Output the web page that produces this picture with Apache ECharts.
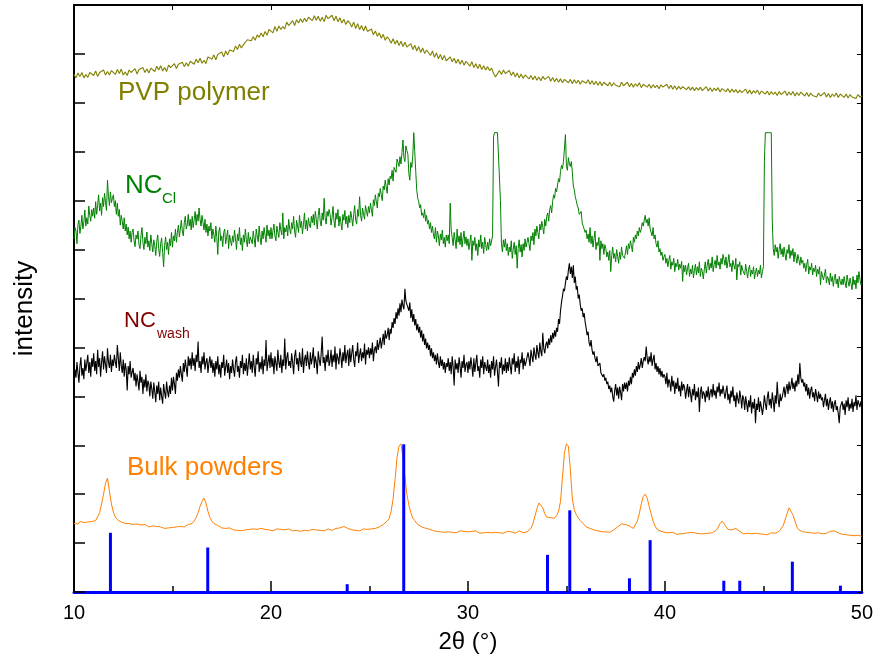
<!DOCTYPE html>
<html>
<head>
<meta charset="UTF-8">
<title>XRD</title>
<script src="https://cdn.jsdelivr.net/npm/echarts@6/dist/echarts.min.js"></script>
<style>
    html, body { margin: 0; padding: 0; background: #fff; }
    #box { width: 876px; height: 660px; }
</style>
</head>
<body>
<div id="box"></div>
<script>
// all patterns start at 2theta = 10; PVP and bulk every 0.1, NC scans every 0.05
const start = 10
const coarseStep = 0.1, fineStep = 0.05

// intensities (1 tick = 100)
const pvp = [
1058,1051,1061,1054,1062,1051,1058,1052,1062,1058,
1056,1065,1054,1062,1059,1067,1057,1064,1057,1066,
1065,1058,1068,1060,1069,1057,1063,1056,1067,1062,
1061,1070,1059,1068,1064,1072,1062,1069,1061,1071,
1071,1064,1075,1067,1076,1065,1072,1064,1077,1072,
1071,1080,1070,1079,1076,1083,1074,1082,1075,1085,
1085,1079,1089,1082,1091,1081,1087,1080,1094,1090,
1089,1098,1088,1099,1096,1104,1094,1106,1098,1108,
1110,1105,1116,1109,1120,1112,1119,1115,1129,1126,
1127,1135,1128,1139,1134,1143,1135,1146,1138,1150,
1150,1143,1156,1146,1157,1150,1156,1151,1165,1158,
1159,1168,1158,1170,1163,1172,1164,1173,1166,1175,
1175,1168,1178,1169,1177,1167,1175,1166,1179,1172,
1170,1179,1168,1177,1166,1174,1163,1171,1160,1168,
1163,1155,1165,1152,1162,1150,1158,1147,1157,1146,
1144,1151,1139,1147,1136,1143,1132,1140,1128,1135,
1130,1122,1131,1120,1128,1117,1126,1115,1124,1114,
1114,1121,1109,1118,1106,1115,1103,1112,1101,1108,
1105,1097,1106,1093,1102,1090,1099,1088,1097,1086,
1087,1094,1084,1091,1081,1089,1079,1087,1077,1085,
1083,1075,1084,1072,1080,1070,1079,1068,1076,1067,
1074,1066,1071,1060,1053,1057,1066,1058,1067,1060,
1059,1066,1056,1063,1053,1061,1051,1059,1050,1057,
1057,1049,1056,1047,1055,1046,1053,1045,1054,1048,
1047,1054,1044,1052,1043,1050,1042,1049,1041,1048,
1049,1041,1048,1039,1047,1040,1046,1038,1045,1041,
1040,1047,1038,1045,1037,1044,1036,1043,1035,1042,
1043,1035,1042,1034,1041,1036,1040,1033,1042,1035,
1035,1042,1033,1040,1032,1039,1034,1041,1031,1038,
1039,1032,1038,1030,1037,1031,1036,1029,1037,1032,
1031,1038,1029,1036,1028,1035,1027,1034,1028,1033,
1034,1027,1033,1026,1032,1025,1031,1026,1032,1025,
1026,1033,1024,1031,1023,1030,1025,1031,1022,1029,
1030,1023,1029,1021,1028,1022,1027,1020,1026,1021,
1021,1028,1019,1026,1018,1025,1020,1026,1017,1024,
1025,1018,1024,1016,1023,1017,1022,1015,1023,1017,
1017,1024,1015,1022,1016,1023,1014,1021,1015,1022,
1022,1014,1021,1013,1020,1015,1019,1012,1020,1014,
1014,1021,1012,1019,1011,1018,1013,1020,1011,1018,
1019,1011,1018,1010,1017,1012,1016,1009,1017,1012,
1014]

const ncCl = [
722,745,738,712,751,760,733,748,770,742,756,781,748,765,752,789,770,758,782,768,
785,764,798,772,790,812,779,795,770,806,788,815,797,780,842,808,790,818,796,805,
812,788,800,772,795,768,782,750,770,758,742,765,738,752,730,746,722,738,715,735,
742,718,706,730,722,738,710,702,728,745,715,700,725,712,736,705,718,698,730,712,
695,720,708,688,716,730,702,686,712,724,694,665,708,726,700,715,690,722,708,735,
705,728,718,742,715,735,750,726,742,760,738,728,755,768,742,750,772,748,762,740,
768,745,760,778,750,772,758,785,762,748,770,755,740,762,735,752,728,748,738,755,
722,742,730,715,748,725,690,736,745,718,728,706,735,742,712,725,740,702,730,718,
708,728,715,740,722,700,732,718,745,710,724,698,730,715,742,720,706,735,712,726,
730,712,738,722,705,742,728,716,748,725,710,738,722,745,730,715,750,728,740,722,
745,722,738,752,728,718,748,735,725,755,740,730,775,722,745,736,750,728,762,742,
732,755,742,768,738,725,760,748,735,770,745,758,732,752,775,742,760,738,765,750,
745,768,755,772,750,778,762,742,770,785,758,748,775,760,805,765,752,778,768,782,
772,750,765,788,758,745,775,762,782,748,768,755,740,772,760,780,752,768,745,770,
755,778,765,748,772,790,760,752,782,768,808,770,758,785,772,762,790,778,768,788,
775,795,782,768,802,790,812,798,785,815,808,825,812,800,830,822,842,828,815,845,
832,850,845,862,840,868,872,858,885,878,870,890,875,898,924,888,880,912,902,895,
855,842,878,868,892,939,900,860,822,805,798,785,792,770,775,765,782,758,770,752,
760,742,755,735,748,730,722,745,715,738,728,708,732,720,740,712,725,705,730,718,
730,712,795,740,725,708,735,720,702,742,715,728,710,735,705,722,738,712,726,708,
722,700,715,730,678,718,708,725,698,712,688,720,705,730,702,715,692,725,710,698,
715,700,722,708,712,728,930,939,939,939,939,939,939,800,712,695,720,705,722,698,
712,688,705,695,718,682,700,715,690,708,662,702,720,695,710,685,712,698,722,705,
708,725,712,698,728,718,735,710,742,728,748,735,722,752,740,758,745,732,762,748,
768,775,758,782,790,775,798,812,805,825,818,832,845,838,860,872,865,880,878,935,
870,862,888,875,870,880,858,830,822,808,800,790,785,772,768,778,755,748,742,735,
740,722,732,715,745,712,728,705,722,738,700,715,708,725,678,718,702,712,690,710,
702,685,695,678,698,655,688,705,682,692,675,700,686,672,695,680,705,688,692,682,
695,708,690,712,702,718,708,695,725,715,730,722,738,728,745,735,742,755,748,760,
770,755,762,748,765,742,738,728,745,722,730,712,705,718,695,702,688,695,678,685,
690,672,682,665,678,688,660,675,668,682,655,672,665,680,658,670,662,676,635,668,
655,668,648,662,672,645,660,650,668,642,658,670,648,665,652,675,645,662,655,640,
660,675,652,668,680,658,672,662,685,655,670,678,662,688,668,675,660,682,670,690,
680,668,685,662,675,690,665,672,655,678,668,660,682,638,670,665,675,648,668,658,
662,648,670,655,642,660,668,645,658,650,665,640,655,662,645,658,650,668,642,655,
665,880,939,939,939,939,939,939,939,760,702,688,710,695,705,682,700,712,690,702,
685,705,690,678,700,692,710,682,698,688,702,675,695,685,672,690,680,668,685,672,
678,662,672,655,670,680,650,665,658,672,648,662,655,668,645,660,650,665,628,655,
652,638,648,660,632,645,640,628,652,635,645,625,642,650,630,640,622,645,635,628,
640,628,645,632,622,648,635,625,642,630,618,645,628,638,620,648,632,655,640,628,
632]

const ncWash = [
420,455,438,470,448,428,462,480,442,458,435,475,452,468,485,448,470,440,478,460,
488,452,472,445,495,460,478,440,470,492,455,482,465,448,498,470,458,485,450,475,
462,485,470,458,505,478,452,490,462,448,475,440,468,455,412,462,445,472,438,450,
458,432,448,420,445,430,412,452,428,440,405,435,418,445,410,432,425,400,430,415,
395,428,410,388,422,405,430,392,418,400,385,425,408,395,430,410,398,422,405,438,
412,440,425,405,448,432,455,438,462,445,430,468,450,475,458,440,482,462,478,455,
490,462,478,452,485,470,512,458,472,448,482,465,490,455,470,478,448,468,482,458,
475,448,468,440,472,455,482,445,465,438,470,458,485,442,460,475,448,468,435,462,
448,475,455,440,470,482,450,462,438,472,458,485,445,468,452,478,442,465,488,455,
472,448,485,460,440,478,465,492,450,470,455,482,445,475,462,515,452,470,485,458,
490,460,478,445,482,468,452,495,470,458,485,448,475,462,518,455,478,490,462,472,
458,488,470,445,482,495,465,478,452,490,470,460,498,448,475,485,462,492,470,455,
490,465,478,500,458,482,470,445,492,475,462,488,522,468,480,452,485,470,495,462,
472,495,460,485,470,502,455,488,478,465,498,482,458,490,472,505,468,485,495,462,
498,470,488,505,475,460,492,482,510,468,485,498,472,490,478,508,465,495,485,500,
478,498,485,510,472,495,502,488,515,495,508,520,498,512,528,505,535,518,525,540,
515,538,528,552,540,560,548,572,558,580,565,590,572,598,585,578,620,595,588,582,
575,592,560,578,552,568,545,558,535,548,530,542,520,535,512,528,505,518,498,510,
495,505,482,498,478,490,472,485,465,488,470,458,482,462,475,455,470,448,468,460,
478,452,470,445,482,460,422,475,455,468,448,480,462,438,472,458,485,450,465,470,
448,472,455,480,462,440,478,450,468,485,452,462,438,475,458,482,445,470,460,452,
475,448,465,438,472,455,482,442,460,475,450,420,470,458,480,445,465,452,478,448,
470,452,480,462,445,478,465,488,450,472,458,482,445,475,468,490,455,478,462,470,
468,490,478,462,495,482,470,500,485,475,505,490,478,510,492,482,530,498,488,505,
512,498,518,505,525,510,530,518,535,522,540,532,558,548,575,592,605,620,615,632,
645,638,658,672,650,665,642,668,632,645,618,625,600,608,588,575,580,562,570,552,
540,525,532,510,502,515,495,485,492,478,470,482,462,458,468,448,452,440,445,432,
438,425,430,415,422,408,418,400,389,412,425,402,418,395,420,408,392,425,410,428,
415,428,410,432,422,440,425,448,438,455,442,462,450,470,455,465,478,458,472,480,
472,502,478,465,482,470,490,462,475,485,455,468,450,462,445,458,440,452,438,445,
440,425,448,418,435,428,410,442,420,432,405,428,415,438,410,422,400,430,412,425,
418,395,412,425,398,420,405,388,415,402,425,392,410,398,418,368,408,420,395,410,
405,388,412,398,420,392,408,415,398,425,402,412,395,420,408,428,400,415,405,422,
418,395,410,422,392,405,385,412,398,420,390,402,378,408,395,385,412,398,375,402,
395,372,400,385,368,392,378,402,365,388,375,395,345,385,372,398,368,390,378,362,
378,402,385,372,398,410,382,395,375,408,390,368,402,385,430,395,378,405,390,398,
408,420,398,415,425,405,430,412,422,438,415,428,410,432,420,445,425,468,438,428,
435,420,428,410,425,402,418,395,412,420,398,408,390,415,402,388,410,395,405,392,
398,378,392,405,380,395,372,388,398,375,390,368,385,392,372,380,365,345,378,382,
390,372,385,362,392,378,398,370,385,375,395,368,388,380,402,372,392,385,378,390,
380]

const bulk = [
140,143,139,144,141,142,138,143,140,144,
143,146,150,162,180,200,222,233,205,180,
163,153,148,146,143,141,140,139,140,137,
138,136,139,135,137,134,138,136,133,137,
135,132,134,131,133,135,130,133,131,134,
132,135,133,131,134,136,133,135,138,137,
140,145,152,162,175,185,192,182,165,152,
145,140,138,136,133,131,132,130,128,131,
129,127,130,126,128,125,129,127,126,128,
126,129,125,128,127,130,126,128,125,127,
128,125,127,129,126,128,124,127,126,129,
127,125,128,126,129,124,127,126,128,125,
126,128,125,127,130,126,128,125,127,129,
127,126,128,130,129,131,133,134,132,130,
128,127,129,126,128,125,127,129,126,128,
127,129,128,130,131,133,135,138,141,145,
150,165,190,230,275,298,303,275,235,200,
178,162,151,146,140,137,134,132,131,130,
129,127,126,125,124,126,123,125,122,124,
123,125,122,124,121,123,125,122,124,121,
123,121,124,122,125,122,120,123,121,124,
122,124,121,123,122,125,121,123,120,122,
124,121,123,122,120,123,125,122,121,124,
123,126,130,140,155,170,182,186,172,160,
153,150,152,149,151,156,165,185,235,285,
303,298,250,190,168,158,152,146,142,138,
133,131,130,128,127,126,125,124,123,125,
123,124,122,125,127,130,133,136,139,140,
138,137,135,132,130,134,145,160,180,195,
200,192,175,160,145,135,128,126,124,123,
122,120,121,119,122,120,118,121,119,121,
120,118,121,119,122,118,120,121,119,120,
119,121,120,122,121,123,126,132,140,145,
140,134,128,126,127,129,130,128,124,121,
119,117,120,118,119,117,120,118,119,117,
118,120,117,119,121,118,120,122,124,127,
135,147,160,172,170,158,145,133,127,123,
123,121,122,120,121,119,120,122,121,120,
119,121,120,122,124,126,125,123,121,119,
118,120,117,119,116,118,115,117,116,118,
114]

// reference pattern sticks
const stickPos = [11.85, 16.79, 23.87, 26.74, 34.04, 35.17, 36.17, 38.20, 39.25, 42.99, 43.80, 46.47, 48.91]
const stickInt = [121, 91, 16, 302, 76, 167, 8, 28, 106, 23, 23, 62, 13]

const xTicks = [10, 20, 30, 40, 50]

function toPairs(arr, step) {
    return arr.map((v, i) => [start + i * step, v])
}

var myChart = echarts.init(document.getElementById('box'))

const font = '"Liberation Sans", Arial, sans-serif'
const lineSeries = (name, data, step, color, width) => ({
    name: name,
    type: 'line',
    data: toPairs(data, step),
    showSymbol: false,
    symbol: 'none',
    lineStyle: { color: color, width: width },
    silent: true,
    z: 2
})

// curve labels as title components (top = cap centre - half the line height)
const tag = (text, left, centre, size, color) => ({
    text: text,
    left: left,
    top: centre - size / 2,
    padding: 0,
    textStyle: { fontSize: size, lineHeight: size, fontWeight: 'normal', color: color, fontFamily: font }
})

var option = {
    animation: false,
    grid: { left: 74, right: 14, top: 5, bottom: 68 },
    title: [
        tag('PVP polymer', 118, 93, 26, '#808000'),
        tag('NC', 125, 186, 26, '#008000'),
        tag('Cl', 162, 199, 15, '#008000'),
        tag('NC', 124, 321, 22, '#800000'),
        tag('wash', 157, 334, 14, '#800000'),
        tag('Bulk powders', 127, 468, 26, '#ff8000')
    ],
    xAxis: [{
        type: 'value',
        position: 'bottom',
        min: xTicks[0],
        max: xTicks[xTicks.length - 1],
        interval: 10,
        name: '2θ (°)',
        nameLocation: 'middle',
        nameGap: 38,
        nameTextStyle: { fontSize: 24, color: '#000', fontFamily: font },
        axisLine: { show: true, onZero: false, lineStyle: { color: '#0000ff', width: 3 } },
        axisTick: { show: true, inside: true, length: 11, lineStyle: { color: '#000', width: 1.5 } },
        minorTick: { show: true, splitNumber: 2, length: 6, lineStyle: { color: '#000', width: 1.5 } },
        axisLabel: { fontSize: 20, color: '#000', margin: 11, fontFamily: font },
        splitLine: { show: false }
    }, {
        type: 'value',
        position: 'top',
        min: 10,
        max: 50,
        interval: 5,
        axisLine: { show: true, onZero: false, lineStyle: { color: '#000', width: 2 } },
        axisTick: { show: true, inside: true, length: 5, lineStyle: { color: '#000', width: 1 } },
        axisLabel: { show: true, inside: true, formatter: () => '' },
        splitLine: { show: false }
    }],
    yAxis: [{
        type: 'value',
        position: 'left',
        min: 0,
        max: 1200,
        interval: 100,
        name: 'intensity',
        nameLocation: 'middle',
        nameRotate: 90,
        nameGap: 36,
        nameTextStyle: { fontSize: 26, color: '#000', fontFamily: font, padding: [0, 20, 0, 0] },
        axisLine: { show: true, lineStyle: { color: '#000', width: 2 } },
        axisTick: { show: true, inside: true, length: 11, lineStyle: { color: '#000', width: 1.5 } },
        axisLabel: { show: true, inside: true, formatter: () => '' },
        splitLine: { show: false }
    }, {
        type: 'value',
        position: 'right',
        min: 0,
        max: 1200,
        interval: 100,
        axisLine: { show: true, lineStyle: { color: '#000', width: 2 } },
        axisTick: { show: true, inside: true, length: 5, lineStyle: { color: '#000', width: 1 } },
        axisLabel: { show: true, inside: true, formatter: () => '' },
        splitLine: { show: false }
    }],
    series: [
        lineSeries('PVP polymer', pvp, coarseStep, '#808000', 1.1),
        lineSeries('NC Cl', ncCl, fineStep, '#008000', 1),
        lineSeries('NC wash', ncWash, fineStep, '#000000', 1.1),
        lineSeries('Bulk powders', bulk, coarseStep, '#ff8000', 1),
        {
            // reference sticks, drawn as thin rects from the baseline
            name: 'reference',
            type: 'custom',
            data: stickPos.map((x, i) => [x, stickInt[i]]),
            encode: { x: 0, y: 1 },
            silent: true,
            z: 3,
            renderItem: function (params, api) {
                const top = api.coord([api.value(0), api.value(1)])
                const base = api.coord([api.value(0), 0])
                return {
                    type: 'rect',
                    shape: { x: top[0] - 1.5, y: top[1], width: 3, height: base[1] - top[1] },
                    style: { fill: '#0000ff' }
                }
            }
        }
    ]
}
myChart.setOption(option)
</script>
</body>
</html>
